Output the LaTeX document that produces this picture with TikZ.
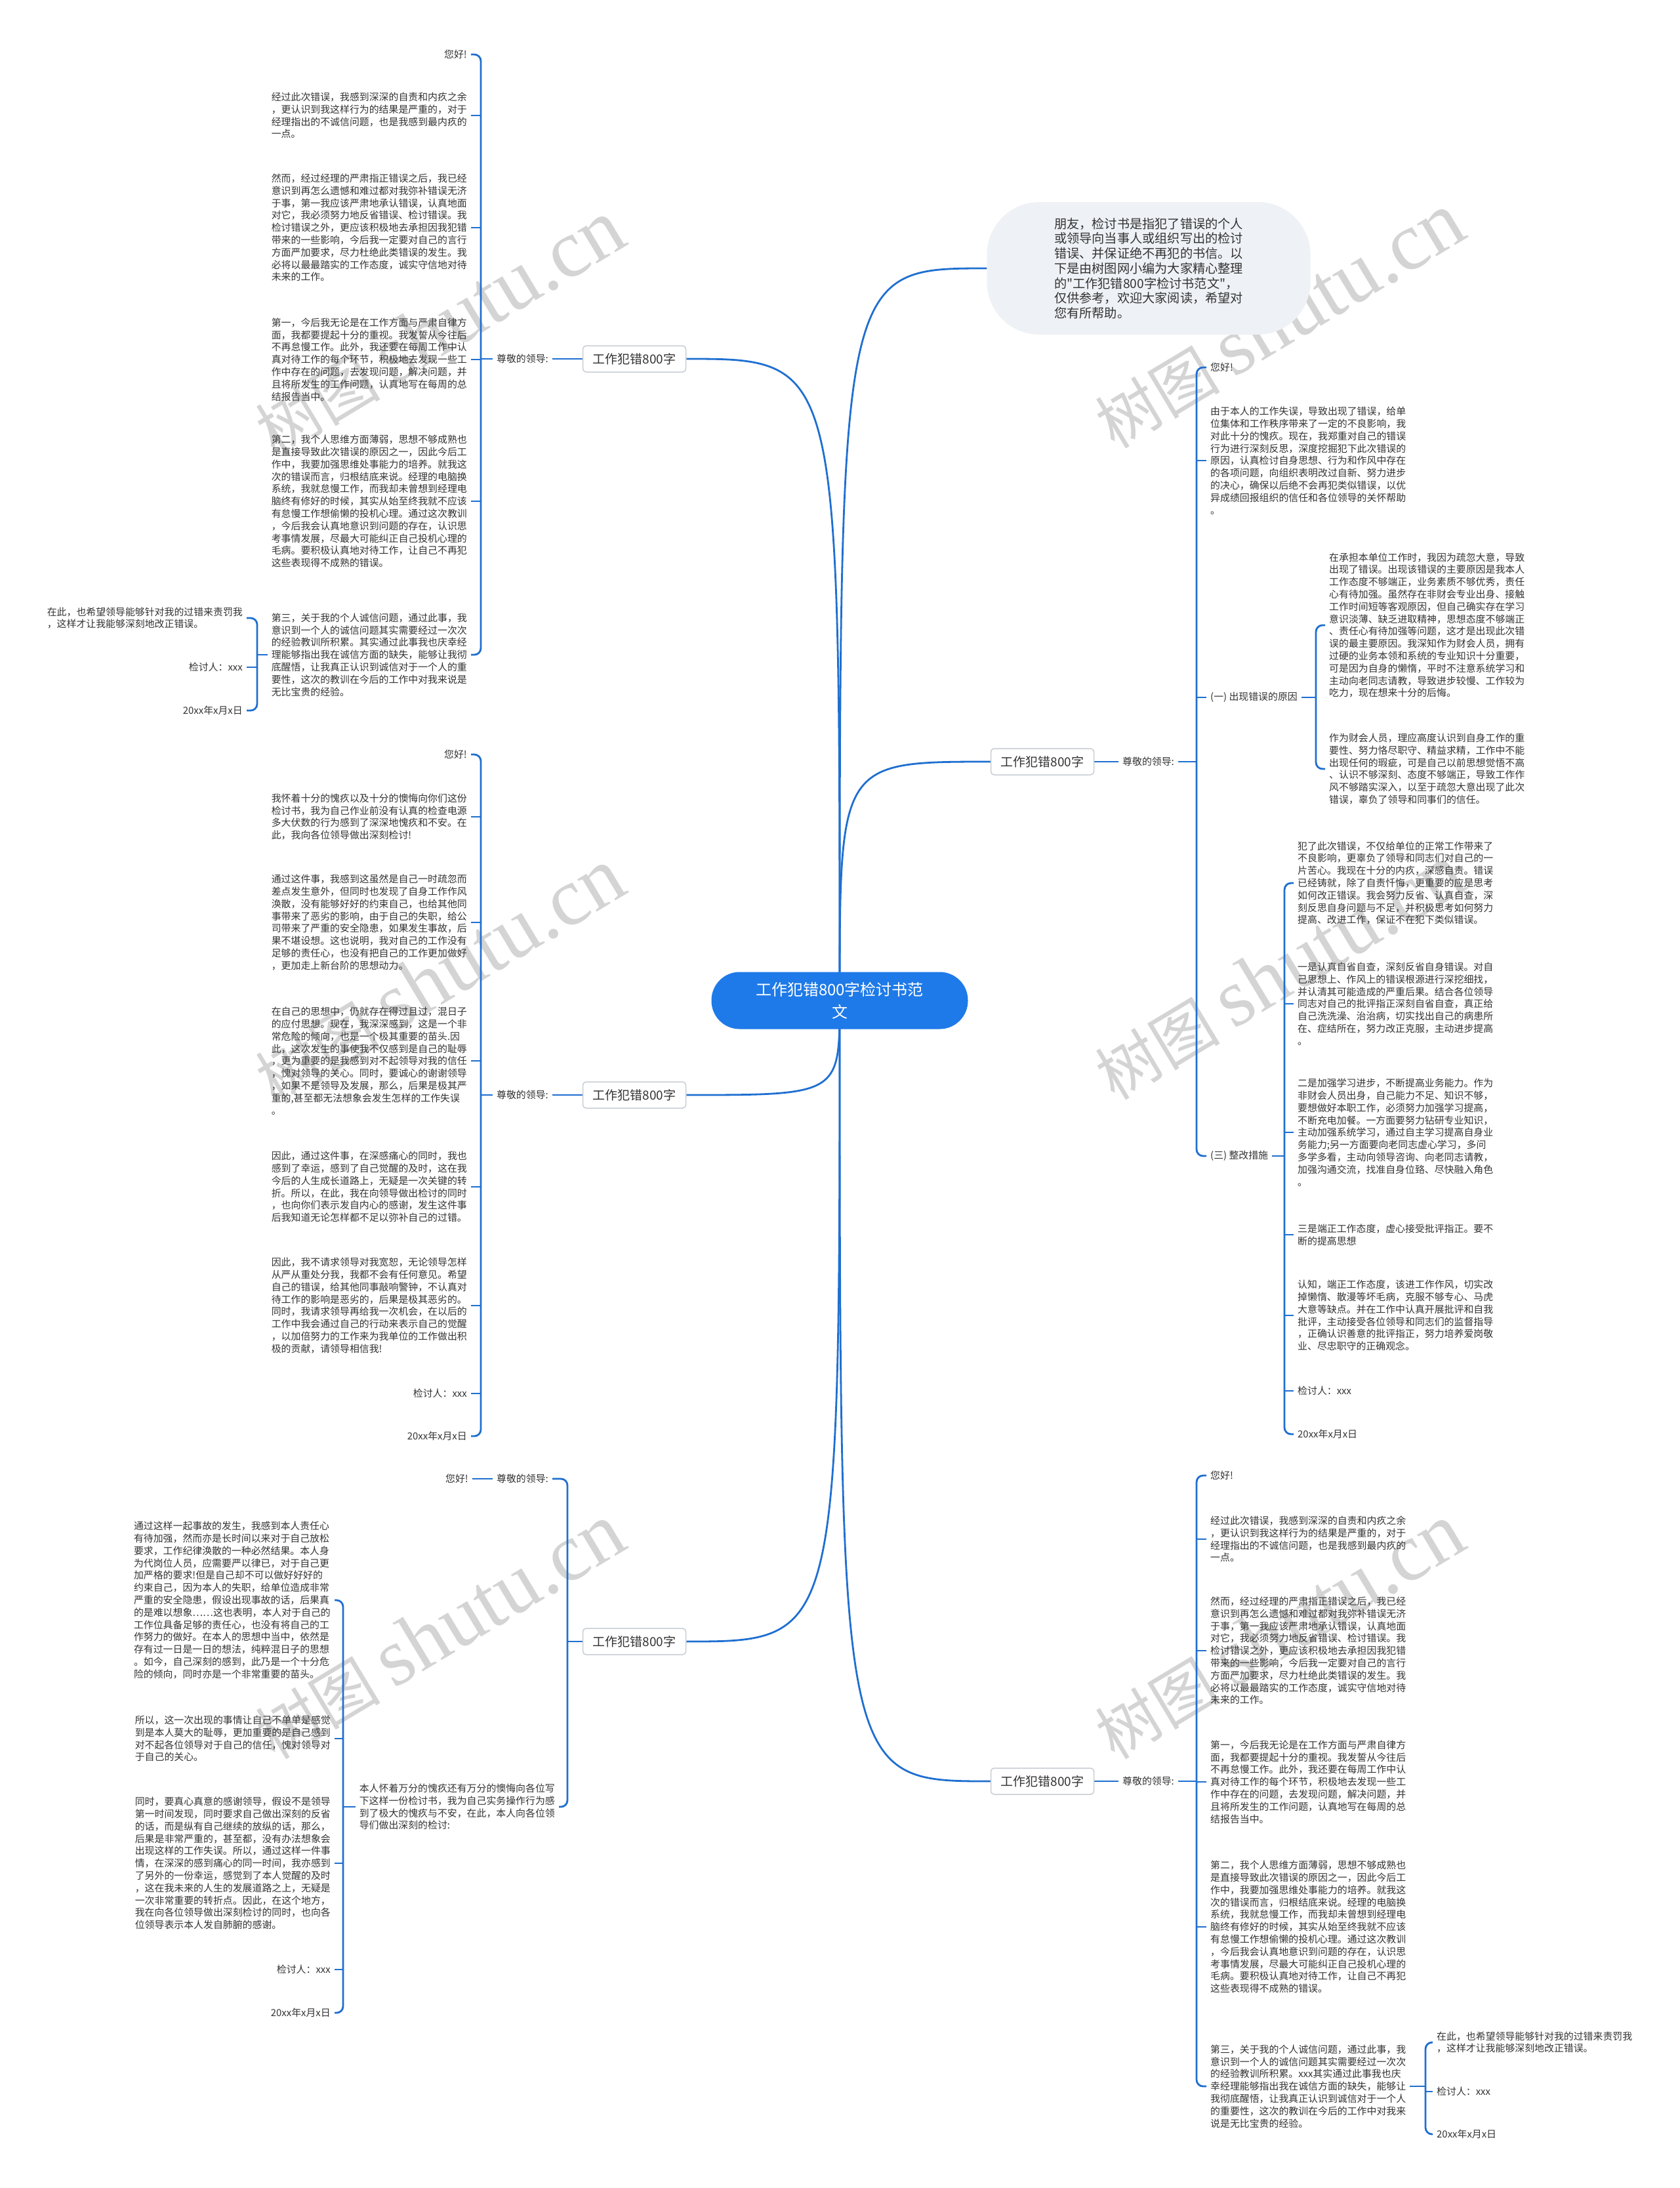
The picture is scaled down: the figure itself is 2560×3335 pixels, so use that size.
\documentclass[tikz,border=0pt]{standalone}
\usepackage{fontspec}
\newfontfamily\cjk{Noto Sans CJK SC}
\newfontfamily\wmserif{Liberation Serif}
\usetikzlibrary{backgrounds}
\definecolor{lineblue}{RGB}{31,111,208}
\definecolor{rootblue}{RGB}{30,122,232}
\definecolor{textgray}{RGB}{51,51,51}
\definecolor{introfill}{RGB}{238,241,245}
\definecolor{lvlborder}{RGB}{200,205,212}
\definecolor{wmgray}{RGB}{212,212,212}
\newcommand{\mybrL}[3]{\draw[conn,rounded corners=10pt] (#2.east) -- (#2.east -| #1) -- (#3.east -| #1) -- (#3.east);}
\newcommand{\mytickL}[2]{\draw[conn] (#2.east) -- (#2.east -| #1);}
\newcommand{\mybrR}[3]{\draw[conn,rounded corners=10pt] (#2.west) -- (#2.west -| #1) -- (#3.west -| #1) -- (#3.west);}
\newcommand{\mytickR}[2]{\draw[conn] (#2.west) -- (#2.west -| #1);}
\newcommand{\txtJingguo}{经过此次错误，我感到深深的自责和内疚之余\\，更认识到我这样行为的结果是严重的，对于\\经理指出的不诚信问题，也是我感到最内疚的\\一点。}
\newcommand{\txtRaner}{然而，经过经理的严肃指正错误之后，我已经\\意识到再怎么遗憾和难过都对我弥补错误无济\\于事，第一我应该严肃地承认错误，认真地面\\对它，我必须努力地反省错误、检讨错误。我\\检讨错误之外，更应该积极地去承担因我犯错\\带来的一些影响，今后我一定要对自己的言行\\方面严加要求，尽力杜绝此类错误的发生。我\\必将以最最踏实的工作态度，诚实守信地对待\\未来的工作。}
\newcommand{\txtDiyi}{第一，今后我无论是在工作方面与严肃自律方\\面，我都要提起十分的重视。我发誓从今往后\\不再怠慢工作。此外，我还要在每周工作中认\\真对待工作的每个环节，积极地去发现一些工\\作中存在的问题，去发现问题，解决问题，并\\且将所发生的工作问题，认真地写在每周的总\\结报告当中。}
\newcommand{\txtDier}{第二，我个人思维方面薄弱，思想不够成熟也\\是直接导致此次错误的原因之一，因此今后工\\作中，我要加强思维处事能力的培养。就我这\\次的错误而言，归根结底来说。经理的电脑换\\系统，我就怠慢工作，而我却未曾想到经理电\\脑终有修好的时候，其实从始至终我就不应该\\有怠慢工作想偷懒的投机心理。通过这次教训\\，今后我会认真地意识到问题的存在，认识思\\考事情发展，尽最大可能纠正自己投机心理的\\毛病。要积极认真地对待工作，让自己不再犯\\这些表现得不成熟的错误。}
\newcommand{\txtZaici}{在此，也希望领导能够针对我的过错来责罚我\\，这样才让我能够深刻地改正错误。}
\begin{document}
\begin{tikzpicture}[x=1pt,y=-1pt,
  conn/.style={draw=lineblue,line width=2.8pt},
  txt/.style={font=\cjk\fontsize{14.9}{18.8}\selectfont,text=textgray,align=left,inner xsep=6pt,inner ysep=2pt},
  lvl/.style={draw=lvlborder,line width=1.5pt,fill=white,rounded corners=5pt,minimum width=157pt,minimum height=40pt,inner sep=0pt,font=\cjk\fontsize{19}{22}\selectfont,text=textgray},
  rootnode/.style={fill=rootblue,rounded corners=43pt,minimum width=391pt,minimum height=87pt,align=center,text=white,font=\cjk\fontsize{24}{34}\selectfont},
  intronode/.style={fill=introfill,rounded corners=80pt,minimum width=493pt,minimum height=202pt,align=left,text=textgray,font=\cjk\fontsize{19.2}{22.7}\selectfont},
  wm/.style={text=wmgray,rotate=31,font=\cjk\fontsize{95}{95}\selectfont,inner sep=0pt}]
\useasboundingbox (0,0) rectangle (2560,3335);

% root and intro
\node[rootnode] (root) at (1280,1525) {工作犯错800字检讨书范\\文};
\node[intronode] (intro) at (1751,409) {朋友，检讨书是指犯了错误的个人\\或领导向当事人或组织写出的检讨\\错误、并保证绝不再犯的书信。以\\下是由树图网小编为大家精心整理\\的"工作犯错800字检讨书范文"，\\仅供参考，欢迎大家阅读，希望对\\您有所帮助。};

% ---------- Block A (top left)
\node[lvl] (lA) at (967,547) {工作犯错800字};
\node[txt,anchor=east] (zA) at (842,547) {尊敬的领导:};
\coordinate (brA) at (733,0);
\coordinate (brAb) at (392,0);
\node[txt,anchor=east] (a0) at (718,83) {您好!};
\node[txt,anchor=east] (a1) at (718,176) {\txtJingguo};
\node[txt,anchor=east] (a2) at (718,347) {\txtRaner};
\node[txt,anchor=east] (a3) at (718,548) {\txtDiyi};
\node[txt,anchor=east] (a4) at (718,764) {\txtDier};
\node[txt,anchor=east] (a5) at (718,998) {第三，关于我的个人诚信问题，通过此事，我\\意识到一个人的诚信问题其实需要经过一次次\\的经验教训所积累。其实通过此事我也庆幸经\\理能够指出我在诚信方面的缺失，能够让我彻\\底醒悟，让我真正认识到诚信对于一个人的重\\要性，这次的教训在今后的工作中对我来说是\\无比宝贵的经验。};
\node[txt,anchor=east] (a6) at (376,942) {\txtZaici};
\node[txt,anchor=east] (a7) at (376,1017) {检讨人：xxx};
\node[txt,anchor=east] (a8) at (376,1083) {20xx年x月x日};

% ---------- Block B (middle left)
\node[lvl] (lB) at (967,1669) {工作犯错800字};
\node[txt,anchor=east] (zB) at (842,1669) {尊敬的领导:};
\coordinate (brB) at (733,0);
\node[txt,anchor=east] (b0) at (718,1150) {您好!};
\node[txt,anchor=east] (b1) at (718,1245) {我怀着十分的愧疚以及十分的懊悔向你们这份\\检讨书，我为自己作业前没有认真的检查电源\\多大伏数的行为感到了深深地愧疚和不安。在\\此，我向各位领导做出深刻检讨!};
\node[txt,anchor=east] (b2) at (718,1406) {通过这件事，我感到这虽然是自己一时疏忽而\\差点发生意外，但同时也发现了自身工作作风\\涣散，没有能够好好的约束自己，也给其他同\\事带来了恶劣的影响，由于自己的失职，给公\\司带来了严重的安全隐患，如果发生事故，后\\果不堪设想。这也说明，我对自己的工作没有\\足够的责任心，也没有把自己的工作更加做好\\，更加走上新台阶的思想动力。};
\node[txt,anchor=east] (b3) at (718,1617) {在自己的思想中，仍就存在得过且过，混日子\\的应付思想。现在，我深深感到，这是一个非\\常危险的倾向，也是一个极其重要的苗头.因\\此，这次发生的事使我不仅感到是自己的耻辱\\，更为重要的是我感到对不起领导对我的信任\\，愧对领导的关心。同时，要诚心的谢谢领导\\，如果不是领导及发展，那么，后果是极其严\\重的,甚至都无法想象会发生怎样的工作失误\\。};
\node[txt,anchor=east] (b4) at (718,1809) {因此，通过这件事，在深感痛心的同时，我也\\感到了幸运，感到了自己觉醒的及时，这在我\\今后的人生成长道路上，无疑是一次关键的转\\折。所以，在此，我在向领导做出检讨的同时\\，也向你们表示发自内心的感谢，发生这件事\\后我知道无论怎样都不足以弥补自己的过错。};
\node[txt,anchor=east] (b5) at (718,1990) {因此，我不请求领导对我宽恕，无论领导怎样\\从严从重处分我，我都不会有任何意见。希望\\自己的错误，给其他同事敲响警钟，不认真对\\待工作的影响是恶劣的，后果是极其恶劣的。\\同时，我请求领导再给我一次机会，在以后的\\工作中我会通过自己的行动来表示自己的觉醒\\，以加倍努力的工作来为我单位的工作做出积\\极的贡献，请领导相信我!};
\node[txt,anchor=east] (b6) at (718,2124) {检讨人：xxx};
\node[txt,anchor=east] (b7) at (718,2189) {20xx年x月x日};

% ---------- Block C (bottom left)
\node[lvl] (lC) at (967,2502) {工作犯错800字};
\coordinate (brC) at (865,0);
\coordinate (brCb) at (523,0);
\node[txt,anchor=east] (c0) at (842,2254) {尊敬的领导:};
\node[txt,anchor=east] (cc) at (720,2254) {您好!};
\node[txt,anchor=east] (c1) at (852,2754) {本人怀着万分的愧疚还有万分的懊悔向各位写\\下这样一份检讨书，我为自己实务操作行为感\\到了极大的愧疚与不安，在此，本人向各位领\\导们做出深刻的检讨:};
\node[txt,anchor=east] (c2) at (510,2439) {通过这样一起事故的发生，我感到本人责任心\\有待加强，然而亦是长时间以来对于自己放松\\要求，工作纪律涣散的一种必然结果。本人身\\为代岗位人员，应需要严以律已，对于自己更\\加严格的要求!但是自己却不可以做好好好的\\约束自己，因为本人的失职，给单位造成非常\\严重的安全隐患，假设出现事故的话，后果真\\的是难以想象……这也表明，本人对于自己的\\工作位具备足够的责任心，也没有将自己的工\\作努力的做好。在本人的思想中当中，依然是\\存有过一日是一日的想法，纯粹混日子的思想\\。如今，自己深刻的感到，此乃是一个十分危\\险的倾向，同时亦是一个非常重要的苗头。};
\node[txt,anchor=east] (c3) at (510,2650) {所以，这一次出现的事情让自己不单单是感觉\\到是本人莫大的耻辱，更加重要的是自己感到\\对不起各位领导对于自己的信任，愧对领导对\\于自己的关心。};
\node[txt,anchor=east] (c4) at (510,2840) {同时，要真心真意的感谢领导，假设不是领导\\第一时间发现，同时要求自己做出深刻的反省\\的话，而是纵有自己继续的放纵的话，那么，\\后果是非常严重的，甚至都，没有办法想象会\\出现这样的工作失误。所以，通过这样一件事\\情，在深深的感到痛心的同一时间，我亦感到\\了另外的一份幸运，感觉到了本人觉醒的及时\\，这在我未来的人生的发展道路之上，无疑是\\一次非常重要的转折点。因此，在这个地方，\\我在向各位领导做出深刻检讨的同时，也向各\\位领导表示本人发自肺腑的感谢。};
\node[txt,anchor=east] (c5) at (510,3002) {检讨人：xxx};
\node[txt,anchor=east] (c6) at (510,3068) {20xx年x月x日};

% ---------- Block D (top right)
\node[lvl] (lD) at (1589,1161) {工作犯错800字};
\node[txt,anchor=west] (zD) at (1705,1161) {尊敬的领导:};
\coordinate (brD) at (1824,0);
\coordinate (brDb) at (2006,0);
\coordinate (brDc) at (1958,0);
\node[txt,anchor=west] (d0) at (1839,560) {您好!};
\node[txt,anchor=west] (d1) at (1839,702) {由于本人的工作失误，导致出现了错误，给单\\位集体和工作秩序带来了一定的不良影响，我\\对此十分的愧疚。现在，我郑重对自己的错误\\行为进行深刻反思，深度挖掘犯下此次错误的\\原因，认真检讨自身思想、行为和作风中存在\\的各项问题，向组织表明改过自新、努力进步\\的决心，确保以后绝不会再犯类似错误，以优\\异成绩回报组织的信任和各位领导的关怀帮助\\。};
\node[txt,anchor=west] (d2) at (1839,1063) {(一) 出现错误的原因};
\node[txt,anchor=west] (d3) at (2020,953) {在承担本单位工作时，我因为疏忽大意，导致\\出现了错误。出现该错误的主要原因是我本人\\工作态度不够端正，业务素质不够优秀，责任\\心有待加强。虽然存在非财会专业出身、接触\\工作时间短等客观原因，但自己确实存在学习\\意识淡薄、缺乏进取精神，思想态度不够端正\\、责任心有待加强等问题，这才是出现此次错\\误的最主要原因。我深知作为财会人员，拥有\\过硬的业务本领和系统的专业知识十分重要，\\可是因为自身的懒惰，平时不注意系统学习和\\主动向老同志请教，导致进步较慢、工作较为\\吃力，现在想来十分的后悔。};
\node[txt,anchor=west] (d4) at (2020,1172) {作为财会人员，理应高度认识到自身工作的重\\要性、努力恪尽职守、精益求精，工作中不能\\出现任何的瑕疵，可是自己以前思想觉悟不高\\、认识不够深刻、态度不够端正，导致工作作\\风不够踏实深入，以至于疏忽大意出现了此次\\错误，辜负了领导和同事们的信任。};
\node[txt,anchor=west] (d5) at (1839,1762) {(三) 整改措施};
\node[txt,anchor=west] (d6) at (1972,1346) {犯了此次错误，不仅给单位的正常工作带来了\\不良影响，更辜负了领导和同志们对自己的一\\片苦心。我现在十分的内疚，深感自责。错误\\已经铸就，除了自责忏悔，更重要的应是思考\\如何改正错误。我会努力反省、认真自查，深\\刻反思自身问题与不足，并积极思考如何努力\\提高、改进工作，保证不在犯下类似错误。};
\node[txt,anchor=west] (d7) at (1972,1530) {一是认真自省自查，深刻反省自身错误。对自\\己思想上、作风上的错误根源进行深挖细找，\\并认清其可能造成的严重后果。结合各位领导\\同志对自己的批评指正深刻自省自查，真正给\\自己洗洗澡、治治病，切实找出自己的病患所\\在、症结所在，努力改正克服，主动进步提高\\。};
\node[txt,anchor=west] (d8) at (1972,1726) {二是加强学习进步，不断提高业务能力。作为\\非财会人员出身，自己能力不足、知识不够，\\要想做好本职工作，必须努力加强学习提高，\\不断充电加餐。一方面要努力钻研专业知识，\\主动加强系统学习，通过自主学习提高自身业\\务能力;另一方面要向老同志虚心学习，多问\\多学多看，主动向领导咨询、向老同志请教，\\加强沟通交流，找准自身位臵、尽快融入角色\\。};
\node[txt,anchor=west] (d9) at (1972,1882) {三是端正工作态度，虚心接受批评指正。要不\\断的提高思想};
\node[txt,anchor=west] (d10) at (1972,2005) {认知，端正工作态度，该进工作作风，切实改\\掉懒惰、散漫等坏毛病，克服不够专心、马虎\\大意等缺点。并在工作中认真开展批评和自我\\批评，主动接受各位领导和同志们的监督指导\\，正确认识善意的批评指正，努力培养爱岗敬\\业、尽忠职守的正确观念。};
\node[txt,anchor=west] (d11) at (1972,2120) {检讨人：xxx};
\node[txt,anchor=west] (d12) at (1972,2186) {20xx年x月x日};

% ---------- Block E (bottom right)
\node[lvl] (lE) at (1589,2715) {工作犯错800字};
\node[txt,anchor=west] (zE) at (1705,2715) {尊敬的领导:};
\coordinate (brE) at (1824,0);
\coordinate (brEb) at (2173,0);
\node[txt,anchor=west] (e0) at (1839,2249) {您好!};
\node[txt,anchor=west] (e1) at (1839,2346) {\txtJingguo};
\node[txt,anchor=west] (e2) at (1839,2516) {\txtRaner};
\node[txt,anchor=west] (e3) at (1839,2716) {\txtDiyi};
\node[txt,anchor=west] (e4) at (1839,2937) {\txtDier};
\node[txt,anchor=west] (e5) at (1839,3180) {第三，关于我的个人诚信问题，通过此事，我\\意识到一个人的诚信问题其实需要经过一次次\\的经验教训所积累。xxx其实通过此事我也庆\\幸经理能够指出我在诚信方面的缺失，能够让\\我彻底醒悟，让我真正认识到诚信对于一个人\\的重要性，这次的教训在今后的工作中对我来\\说是无比宝贵的经验。};
\node[txt,anchor=west] (e6) at (2184,3113) {\txtZaici};
\node[txt,anchor=west] (e7) at (2184,3188) {检讨人：xxx};
\node[txt,anchor=west] (e8) at (2184,3253) {20xx年x月x日};

\begin{scope}[on background layer]
  \fill[white] (0,0) rectangle (2560,3335);
  % watermarks
  \foreach \wx/\wy in {670/500,1950/489,670/1488,1950/1482,670/2487,1950/2487}{
    \node[wm] at (\wx,\wy) {树图 {\wmserif\fontsize{125}{125}\selectfont shutu.cn}};
  }
  % root connectors
  \draw[conn] (root.center) .. controls (root.center |- intro.west) .. (intro.west);
  \draw[conn] (root.center) .. controls (root.center |- lA.east) .. (lA.east);
  \draw[conn] (root.center) .. controls (root.center |- lB.east) .. (lB.east);
  \draw[conn] (root.center) .. controls (root.center |- lC.east) .. (lC.east);
  \draw[conn] (root.center) .. controls (root.center |- lD.west) .. (lD.west);
  \draw[conn] (root.center) .. controls (root.center |- lE.west) .. (lE.west);
  % block A
  \draw[conn] (lA.west) -- (zA.east);
  \draw[conn] (zA.west) -- (zA.west -| brA);
  \mybrL{brA}{a0}{a5}
  \mytickL{brA}{a1}\mytickL{brA}{a2}\mytickL{brA}{a3}\mytickL{brA}{a4}
  \draw[conn] (a5.west) -- (a5.west -| brAb);
  \mybrL{brAb}{a6}{a8}
  \mytickL{brAb}{a7}
  % block B
  \draw[conn] (lB.west) -- (zB.east);
  \draw[conn] (zB.west) -- (zB.west -| brB);
  \mybrL{brB}{b0}{b7}
  \mytickL{brB}{b1}\mytickL{brB}{b2}\mytickL{brB}{b3}\mytickL{brB}{b4}\mytickL{brB}{b5}\mytickL{brB}{b6}
  % block C
  \draw[conn] (lC.west) -- (lC.west -| brC);
  \mybrL{brC}{c0}{c1}
  \draw[conn] (c0.west) -- (cc.east);
  \draw[conn] (c1.west) -- (c1.west -| brCb);
  \mybrL{brCb}{c2}{c6}
  \mytickL{brCb}{c3}\mytickL{brCb}{c4}\mytickL{brCb}{c5}
  % block D
  \draw[conn] (lD.east) -- (zD.west);
  \draw[conn] (zD.east) -- (zD.east -| brD);
  \mybrR{brD}{d0}{d5}
  \mytickR{brD}{d1}\mytickR{brD}{d2}
  \draw[conn] (d2.east) -- (d2.east -| brDb);
  \mybrR{brDb}{d3}{d4}
  \draw[conn] (d5.east) -- (d5.east -| brDc);
  \mybrR{brDc}{d6}{d12}
  \mytickR{brDc}{d7}\mytickR{brDc}{d8}\mytickR{brDc}{d9}\mytickR{brDc}{d10}\mytickR{brDc}{d11}
  % block E
  \draw[conn] (lE.east) -- (zE.west);
  \draw[conn] (zE.east) -- (zE.east -| brE);
  \mybrR{brE}{e0}{e5}
  \mytickR{brE}{e1}\mytickR{brE}{e2}\mytickR{brE}{e3}\mytickR{brE}{e4}
  \draw[conn] (e5.east) -- (e5.east -| brEb);
  \mybrR{brEb}{e6}{e8}
  \mytickR{brEb}{e7}
\end{scope}
\end{tikzpicture}
\end{document}
